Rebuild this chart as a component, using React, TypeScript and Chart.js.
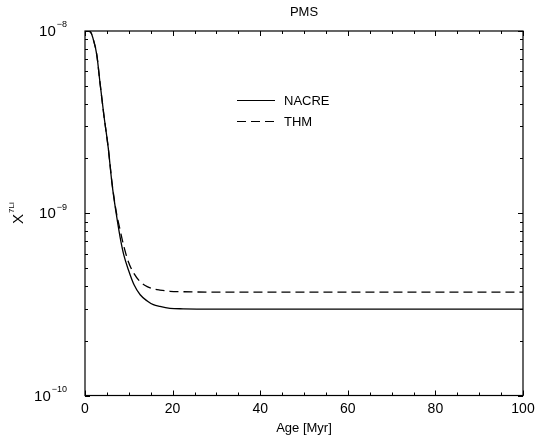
import React, { useEffect, useRef } from "react";
import { Chart, registerables } from "chart.js";

Chart.register(...registerables);

const TITLE = "PMS";
const X_TITLE = "Age [Myr]";
const Y_TITLE_BASE = "X";
const Y_TITLE_SUP = "7Li";

const AGES = [0, 0.9, 1.4, 1.8, 2.7, 3.4, 4.3, 5.3, 6.2, 7.1, 8.0, 8.9, 9.9, 11.2, 12.6, 14.2, 15.6, 17.1, 19.4, 22.4, 30, 40, 50, 60, 70, 80, 90, 100];
const NACRE = [1.0e-8, 1.0e-8, 9.75e-9, 9.16e-9, 7.38e-9, 5.26e-9, 3.47e-9, 2.29e-9, 1.43e-9, 1.007e-9, 7.43e-10, 5.85e-10, 4.9e-10, 4.05e-10, 3.57e-10, 3.3e-10, 3.15e-10, 3.08e-10, 3.01e-10, 2.99e-10, 2.98e-10, 2.98e-10, 2.98e-10, 2.98e-10, 2.98e-10, 2.98e-10, 2.98e-10, 2.98e-10];
const THM = [1.0e-8, 1.0e-8, 9.75e-9, 9.16e-9, 7.38e-9, 5.26e-9, 3.47e-9, 2.29e-9, 1.45e-9, 1.03e-9, 8.13e-10, 6.54e-10, 5.42e-10, 4.66e-10, 4.21e-10, 3.96e-10, 3.85e-10, 3.79e-10, 3.73e-10, 3.71e-10, 3.69e-10, 3.69e-10, 3.69e-10, 3.69e-10, 3.69e-10, 3.69e-10, 3.69e-10, 3.69e-10];

const SERIES_LABELS = ["NACRE", "THM"];
const X_MAJOR = [0, 20, 40, 60, 80, 100];
const X_MINOR_STEP = 5;
const Y_DECADES = [-10, -9, -8];

const FONT = "'Liberation Sans', Arial, Helvetica, sans-serif";

const framePlugin = {
  id: "frame",
  afterDraw(chart: any) {
    const ctx = chart.ctx as CanvasRenderingContext2D;
    const xs = chart.scales.x;
    const ys = chart.scales.y;
    const { left, right, top, bottom } = chart.chartArea;
    ctx.save();
    ctx.strokeStyle = "#000";
    ctx.fillStyle = "#000";
    ctx.lineWidth = 1.2;
    ctx.strokeRect(left, top, right - left, bottom - top);

    // x ticks
    ctx.lineWidth = 1;
    for (let v = X_MAJOR[0]; v <= X_MAJOR[X_MAJOR.length - 1]; v += X_MINOR_STEP) {
      const px = Math.round(xs.getPixelForValue(v)) + 0.5;
      const len = X_MAJOR.includes(v) ? 5 : 3;
      ctx.beginPath();
      ctx.moveTo(px, bottom);
      ctx.lineTo(px, bottom - len);
      ctx.moveTo(px, top);
      ctx.lineTo(px, top + len);
      ctx.stroke();
    }
    // y ticks
    for (let i = 0; i < Y_DECADES.length; i++) {
      const d = Y_DECADES[i];
      const maxM = i === Y_DECADES.length - 1 ? 1 : 9;
      for (let m = 1; m <= maxM; m++) {
        const v = m * Math.pow(10, d);
        const py = Math.round(ys.getPixelForValue(v)) + 0.5;
        const len = m === 1 ? 5 : 3;
        ctx.beginPath();
        ctx.moveTo(left, py);
        ctx.lineTo(left + len, py);
        ctx.moveTo(right, py);
        ctx.lineTo(right - len, py);
        ctx.stroke();
      }
    }

    // x tick labels
    ctx.font = `14px ${FONT}`;
    ctx.textAlign = "center";
    ctx.textBaseline = "middle";
    for (const v of X_MAJOR) {
      ctx.fillText(String(v), xs.getPixelForValue(v), bottom + 14);
    }
    // y tick labels
    for (const d of Y_DECADES) {
      const py = ys.getPixelForValue(Math.pow(10, d));
      const sup = "\u2212" + String(Math.abs(d));
      ctx.font = `9px ${FONT}`;
      const supW = ctx.measureText(sup).width;
      const xRight = left - 18;
      ctx.textAlign = "right";
      ctx.textBaseline = "middle";
      ctx.fillText(sup, xRight, py - 6);
      ctx.font = `15px ${FONT}`;
      ctx.fillText("10", xRight - supW - 1, py + 1);
    }

    // title
    ctx.font = `13px ${FONT}`;
    ctx.textAlign = "center";
    ctx.textBaseline = "middle";
    ctx.fillText(TITLE, (left + right) / 2, 12);
    // x title
    ctx.font = `13px ${FONT}`;
    ctx.fillText(X_TITLE, (left + right) / 2, bottom + 33);
    // y title
    ctx.save();
    ctx.translate(19, 215);
    ctx.rotate(-Math.PI / 2);
    ctx.font = `15px ${FONT}`;
    ctx.textAlign = "left";
    ctx.textBaseline = "middle";
    const xw = ctx.measureText(Y_TITLE_BASE).width;
    ctx.fillText(Y_TITLE_BASE, -xw / 2 - 4, 0);
    ctx.font = `8px ${FONT}`;
    ctx.fillText(Y_TITLE_SUP, xw / 2 - 3, -7);
    ctx.restore();

    // legend
    const legendY = [100, 121];
    chart.data.datasets.forEach((ds: any, i: number) => {
      const y = legendY[i];
      ctx.save();
      ctx.lineWidth = 1.2;
      ctx.setLineDash(ds.borderDash || []);
      ctx.beginPath();
      ctx.moveTo(237, y + 0.5);
      ctx.lineTo(275, y + 0.5);
      ctx.stroke();
      ctx.restore();
      ctx.font = `13px ${FONT}`;
      ctx.textAlign = "left";
      ctx.textBaseline = "middle";
      ctx.fillText(ds.label, 284, y + 1);
    });
    ctx.restore();
  },
};

export default function App() {
  const ref = useRef<HTMLCanvasElement | null>(null);
  useEffect(() => {
    document.body.style.margin = "0";
    const canvas = ref.current!;
    const chart = new Chart(canvas, {
      type: "line",
      data: {
        datasets: [
          {
            label: SERIES_LABELS[0],
            data: AGES.map((a, i) => ({ x: a, y: NACRE[i] })),
            borderColor: "#000",
            borderWidth: 1.3,
            pointRadius: 0,
            tension: 0.4,
            cubicInterpolationMode: "monotone",
            fill: false,
          },
          {
            label: SERIES_LABELS[1],
            data: AGES.map((a, i) => ({ x: a, y: THM[i] })),
            borderColor: "#000",
            borderWidth: 1.3,
            borderDash: [9, 5],
            pointRadius: 0,
            tension: 0.4,
            cubicInterpolationMode: "monotone",
            fill: false,
          },
        ],
      },
      options: {
        animation: false,
        responsive: false,
        devicePixelRatio: 1,
        layout: { padding: { left: 85, top: 31, right: 12, bottom: 45.5 } },
        plugins: { legend: { display: false }, tooltip: { enabled: false } },
        scales: {
          x: { type: "linear", min: 0, max: 100, display: false },
          y: { type: "logarithmic", min: 1e-10, max: 1e-8, display: false },
        },
      },
      plugins: [framePlugin],
    });
    return () => chart.destroy();
  }, []);
  return (
    <div style={{ position: "absolute", left: 0, top: 0, background: "#fff" }}>
      <canvas ref={ref} width={535} height={441} style={{ display: "block" }} />
    </div>
  );
}
